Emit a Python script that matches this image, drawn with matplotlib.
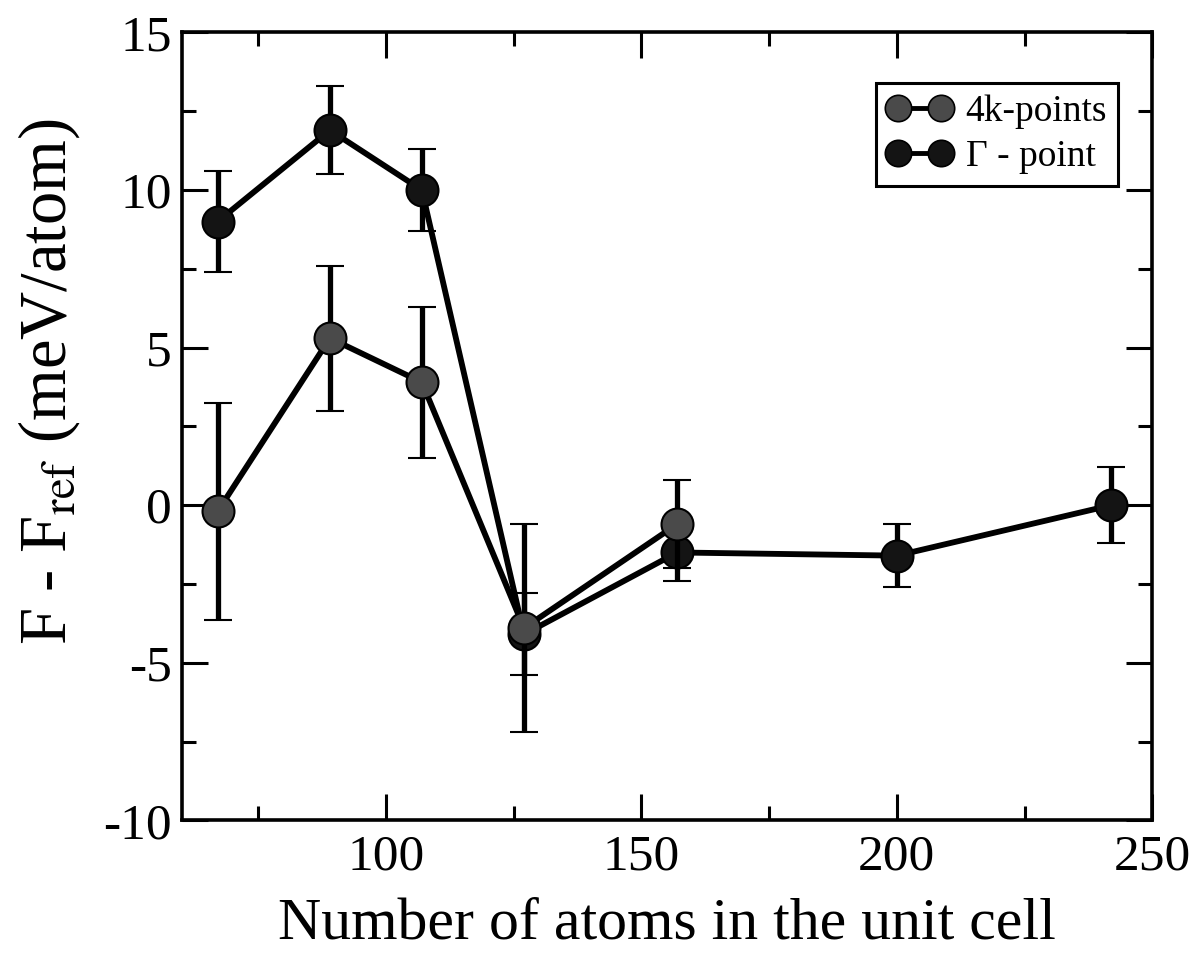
import matplotlib
matplotlib.use("Agg")
import matplotlib.pyplot as plt
from matplotlib.lines import Line2D
from matplotlib.ticker import MultipleLocator

plt.rcParams["font.family"] = ["Liberation Serif", "DejaVu Serif"]
plt.rcParams["mathtext.fontset"] = "stix"
plt.rcParams["axes.unicode_minus"] = False

# Free energy difference vs. cell size
natoms_4k = [67, 89, 107, 127, 157]
f_4k = [-0.2, 5.3, 3.9, -3.9, -0.6]
err_4k = [3.45, 2.3, 2.4, 3.3, 1.4]

natoms_gamma = [67, 89, 107, 127, 157, 200, 242]
f_gamma = [9.0, 11.9, 10.0, -4.1, -1.5, -1.6, 0.0]
err_gamma = [1.6, 1.4, 1.3, 1.3, 0.9, 1.0, 1.2]

x_ticks = [100, 150, 200, 250]
y_ticks = [-10, -5, 0, 5, 10, 15]

face_4k = "#4a4a4a"
face_gamma = "#141414"

fig = plt.figure(figsize=(12.04, 9.55), dpi=100)
ax = fig.add_axes([0.151, 0.141, 0.806, 0.825])

common = dict(color="black", lw=4.2, marker="o", markersize=23,
              markeredgecolor="black", markeredgewidth=1.5,
              ecolor="black", elinewidth=3.8, capsize=10, capthick=4.0)

ax.errorbar(natoms_gamma, f_gamma, yerr=err_gamma, markerfacecolor=face_gamma,
            zorder=3, **common)
ax.errorbar(natoms_4k, f_4k, yerr=err_4k, markerfacecolor=face_4k,
            zorder=4, **common)

ax.set_xlim(60, 250)
ax.set_ylim(-10, 15)
ax.set_xticks(x_ticks)
ax.set_yticks(y_ticks)
ax.xaxis.set_minor_locator(MultipleLocator(25))
ax.yaxis.set_minor_locator(MultipleLocator(2.5))

ax.tick_params(which="both", direction="in", top=True, right=True,
               width=2.2, labelsize=37)
ax.tick_params(which="major", length=19)
ax.tick_params(which="minor", length=10)
ax.tick_params(axis="x", pad=10)
ax.tick_params(axis="y", pad=7)
for s in ax.spines.values():
    s.set_linewidth(2.6)

ax.set_xlabel("Number of atoms in the unit cell", fontsize=43, labelpad=12)
ax.set_ylabel(r"F - F$_{\mathrm{ref}}$ (meV/atom)", fontsize=48)
ax.yaxis.set_label_coords(-0.103, 0.557)

legend_handles = [
    Line2D([], [], color="black", lw=3.5, marker="o", markersize=19,
           markerfacecolor=face_4k, markeredgecolor="black", markeredgewidth=1.2),
    Line2D([], [], color="black", lw=3.5, marker="o", markersize=19,
           markerfacecolor=face_gamma, markeredgecolor="black", markeredgewidth=1.2),
]
legend_labels = ["4k-points", "\u0393 - point"]
leg = ax.legend(legend_handles, legend_labels, loc="upper right",
                bbox_to_anchor=(0.965, 0.936), fontsize=27, numpoints=2,
                handlelength=1.75, handletextpad=0.35, borderpad=0.3,
                borderaxespad=0, labelspacing=0.3, fancybox=False,
                framealpha=1, edgecolor="black")
leg.get_frame().set_linewidth(2.2)

fig.savefig("out.png", dpi=100)
